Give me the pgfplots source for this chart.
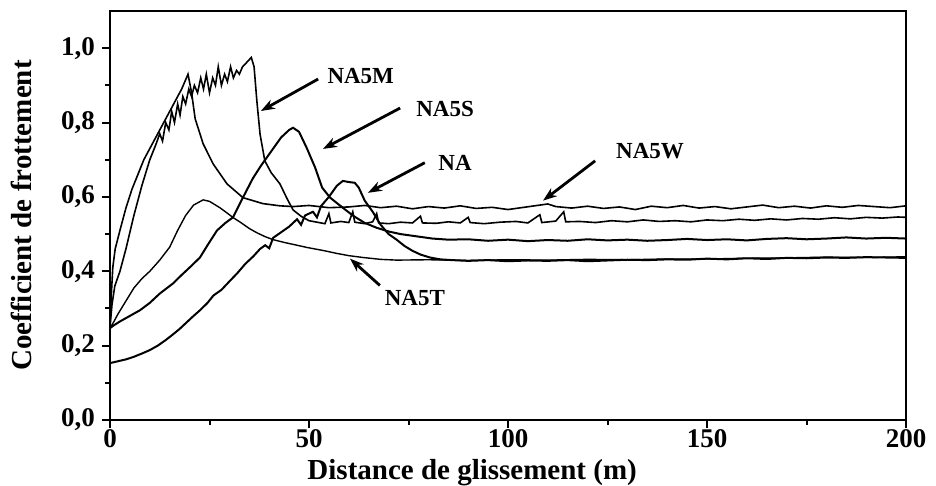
\documentclass[border=0pt]{standalone}
\usepackage{pgfplots}
\pgfplotsset{compat=1.18}
\usepackage{fontspec}
\setmainfont{Liberation Serif}
\usetikzlibrary{arrows.meta}

\pgfplotstableread{
x y
0 0.25
0.3 0.33
0.7 0.41
1.3 0.46
2.5 0.51
4 0.57
5.5 0.62
7 0.66
8.5 0.70
10 0.73
11.5 0.76
13 0.79
14 0.81
15 0.83
16 0.85
17 0.87
18 0.89
19 0.915
19.6 0.93
20.5 0.88
21.4 0.81
23.4 0.743
25.9 0.689
29.4 0.635
33.4 0.598
38.4 0.582
42.7 0.576
46 0.574
50 0.577
55 0.571
60 0.573
64 0.577
68 0.571
72 0.575
76 0.568
80 0.574
84 0.570
88 0.576
92 0.569
96 0.572
100 0.566
104 0.572
108 0.578
110 0.581
112 0.574
116 0.570
120 0.575
124 0.569
128 0.573
132 0.566
136 0.575
140 0.571
144 0.577
148 0.570
152 0.574
156 0.568
160 0.573
164 0.578
168 0.571
172 0.575
176 0.570
180 0.576
184 0.572
188 0.577
192 0.574
196 0.571
200 0.576
}\naw

\pgfplotstableread{
x y
0 0.25
0.5 0.31
1.2 0.36
2.5 0.40
4 0.46
6 0.55
8 0.63
10 0.70
11.5 0.74
12.5 0.77
13.2 0.75
14 0.80
14.8 0.78
15.5 0.83
16.2 0.80
17 0.85
17.6 0.82
18.3 0.87
19 0.85
19.8 0.89
20.5 0.87
21.2 0.90
22 0.88
22.8 0.92
23.5 0.89
24.2 0.93
25 0.88
25.8 0.92
26.5 0.90
27.2 0.95
28 0.90
28.8 0.93
29.5 0.91
30.3 0.95
31 0.92
31.8 0.94
32.5 0.93
33.3 0.95
34.2 0.96
35.5 0.975
36.2 0.95
36.9 0.858
37.7 0.769
38.9 0.697
40.5 0.665
42.7 0.635
44.5 0.595
46 0.565
48 0.548
50 0.536
52 0.532
54 0.528
55 0.555
55.5 0.530
58 0.534
60 0.531
61 0.560
61.5 0.532
64 0.528
66 0.533
67 0.555
67.5 0.530
70 0.528
73 0.532
76 0.530
78 0.548
78.5 0.530
82 0.529
85 0.533
88 0.530
90 0.545
90.5 0.531
94 0.528
98 0.532
102 0.534
105 0.530
108 0.552
108.5 0.531
112 0.535
114 0.560
114.5 0.533
118 0.534
122 0.531
126 0.536
130 0.533
134 0.538
138 0.534
142 0.536
146 0.533
150 0.538
154 0.536
158 0.540
162 0.537
166 0.541
170 0.538
174 0.542
178 0.540
182 0.544
186 0.541
190 0.545
194 0.543
198 0.546
200 0.545
}\nam

\pgfplotstableread{
x y
0 0.247
1 0.255
2.5 0.265
5 0.28
7.5 0.295
10 0.315
12.5 0.34
15.8 0.367
18 0.39
20 0.41
22.6 0.437
24.5 0.47
26.9 0.51
29 0.53
30.9 0.545
33 0.59
35.9 0.65
38 0.685
41 0.73
43 0.76
45 0.78
46 0.786
47.5 0.775
49.5 0.73
51.5 0.68
53.3 0.625
55.3 0.598
58 0.575
61 0.55
64 0.53
67 0.517
70 0.507
73 0.50
77 0.494
81 0.488
85 0.485
90 0.486
95 0.482
100 0.485
105 0.481
110 0.484
115 0.482
120 0.486
125 0.483
130 0.485
135 0.482
140 0.484
145 0.487
150 0.484
155 0.486
160 0.483
165 0.487
170 0.489
175 0.486
180 0.488
185 0.491
190 0.488
195 0.490
200 0.488
}\nas

\pgfplotstableread{
x y
0 0.153
2 0.158
4 0.163
6 0.170
8.3 0.180
10 0.188
12 0.200
14 0.215
15.8 0.230
17.5 0.245
19 0.260
21 0.280
22.6 0.295
24.5 0.315
26 0.335
28 0.350
30.2 0.375
32 0.395
34 0.420
36 0.440
37.7 0.460
39 0.470
40 0.462
41 0.490
43 0.505
45 0.520
47 0.540
48 0.525
49 0.550
51 0.560
52 0.545
53 0.575
55 0.600
57 0.630
58.5 0.643
60 0.640
61.5 0.638
62.5 0.625
64 0.590
66 0.560
68 0.525
70 0.500
72 0.485
74 0.468
76 0.455
78 0.445
80.4 0.437
83 0.432
86 0.430
90 0.428
95 0.430
100 0.427
105 0.429
110 0.428
115 0.430
120 0.427
125 0.429
130 0.431
135 0.430
140 0.432
145 0.431
150 0.434
155 0.432
160 0.435
165 0.433
170 0.436
175 0.435
180 0.437
185 0.436
190 0.438
195 0.437
200 0.436
}\na

\pgfplotstableread{
x y
0 0.247
1 0.265
2 0.285
4 0.32
6 0.355
8 0.38
10 0.40
12.5 0.43
15 0.465
17 0.51
19 0.55
21 0.578
23.4 0.592
25 0.588
27.6 0.571
29 0.56
31 0.544
33 0.53
35 0.515
37 0.503
39 0.493
41 0.485
44 0.477
47 0.470
49.5 0.464
53.5 0.456
57 0.448
60 0.442
63.6 0.437
68 0.432
72 0.430
80 0.431
90 0.429
100 0.431
110 0.430
120 0.432
130 0.431
140 0.433
150 0.433
160 0.435
170 0.436
180 0.438
190 0.437
200 0.439
}\nat

\begin{document}
\begin{tikzpicture}
\begin{axis}[
  name=ax,
  scale only axis,
  width=398pt, height=204.5pt,
  xmin=0, xmax=200, ymin=0, ymax=1.1,
  xtick={0,50,100,150,200},
  ytick={0,0.2,0.4,0.6,0.8,1.0},
  minor xtick={25,75,125,175},
  minor ytick={0.1,0.3,0.5,0.7,0.9},
  tick align=outside,
  xtick pos=left, ytick pos=left,
  major tick length=4pt, minor tick length=2.5pt,
  every tick/.style={black, line width=1pt},
  axis line style={line width=1.2pt},
  /pgf/number format/assume math mode=true,
  tick label style={font=\fontsize{13.5}{13.5}\selectfont\bfseries},
  xticklabel style={yshift=3pt},
  yticklabel style={/pgf/number format/.cd, fixed, fixed zerofill, precision=1, use comma},
  xlabel={Distance de glissement (m)},
  ylabel={Coefficient de frottement},
  label style={font=\fontsize{14.5}{14.5}\selectfont\bfseries},
  xlabel style={at={(axis description cs:0.455,-0.145)}, anchor=base},
  ylabel style={at={(axis description cs:-0.111,0.5)}, anchor=center},
  clip=true,
]
\addplot[black, line width=0.8pt] table {\naw};
\addplot[black, line width=0.8pt] table {\nam};
\addplot[black, line width=1.0pt] table {\nas};
\addplot[black, line width=1.0pt] table {\na};
\addplot[black, line width=0.7pt] table {\nat};

\begin{scope}[font=\fontsize{11.5}{11.5}\selectfont\bfseries, line width=1.4pt, -{Stealth[length=7pt,width=5pt]}]
\node at (axis cs:63,0.925) {NA5M};
\draw (axis cs:52.3,0.917) -- (axis cs:37.9,0.831);
\node at (axis cs:84.2,0.836) {NA5S};
\draw (axis cs:72.9,0.839) -- (axis cs:53.5,0.729);
\node at (axis cs:86.7,0.692) {NA};
\draw (axis cs:79.1,0.692) -- (axis cs:64.8,0.611);
\node at (axis cs:135.7,0.724) {NA5W};
\draw (axis cs:121.9,0.697) -- (axis cs:108.8,0.59);
\node at (axis cs:76.6,0.327) {NA5T};
\draw (axis cs:67.8,0.362) -- (axis cs:60.3,0.434);
\end{scope}
\end{axis}
\pgfresetboundingbox
\path ([xshift=-55pt,yshift=-33pt]ax.south west) rectangle ([xshift=15pt,yshift=5.5pt]ax.north east);
\end{tikzpicture}
\end{document}
